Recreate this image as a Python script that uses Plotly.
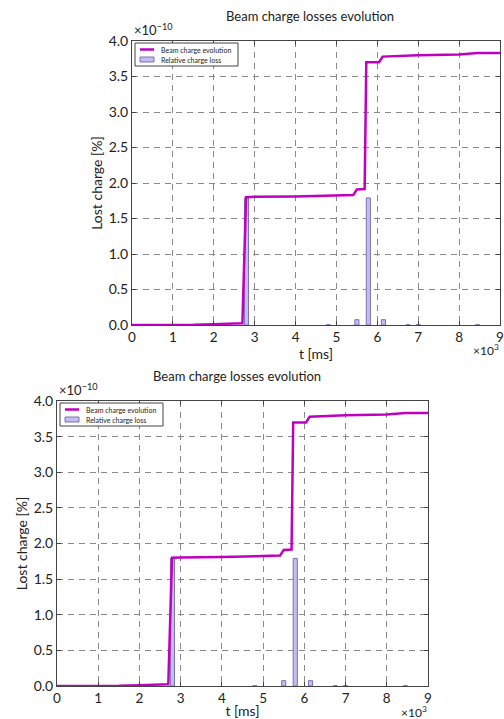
import plotly.graph_objects as go

# ---- data ----
t_line = [0, 500, 1000, 1500, 2000, 2500, 2700, 2790, 3000, 4000, 5000, 5410, 5500, 5690, 5730, 6040, 6130, 7000, 8000, 8450, 9000]
q_line = [0.0, 0.0, 0.001, 0.004, 0.012, 0.018, 0.025, 1.80, 1.805, 1.81, 1.82, 1.83, 1.91, 1.915, 3.70, 3.70, 3.78, 3.80, 3.81, 3.83, 3.83]
t_bars = [2800, 4800, 5500, 5780, 6150, 6750, 7000, 8450]
q_bars = [1.79, 0.004, 0.075, 1.79, 0.075, 0.004, 0.004, 0.004]
scale = 1e-10
y_tickvals = [0.0, 0.5, 1.0, 1.5, 2.0, 2.5, 3.0, 3.5, 4.0]
x_tickvals = [0, 1, 2, 3, 4, 5, 6, 7, 8, 9]
line_name = "Beam charge evolution"
bar_name = "Relative charge loss"

W, H = 504, 719
FONT = "Lato"
MAG = "#C000C0"
BAR_FILL = "#C6BCF2"
BAR_EDGE = "#7A72B0"

fig = go.Figure()

panels = [
    dict(x0=132, x1=500, y0=41, y1=325, xa="x", ya="y"),
    dict(x0=57, x1=428, y0=401, y1=686, xa="x2", ya="y2"),
]

for p in panels:
    fig.add_trace(go.Bar(
        x=t_bars, y=[v * scale for v in q_bars], width=100,
        marker=dict(color=BAR_FILL, line=dict(color=BAR_EDGE, width=1)),
        name=bar_name, xaxis=p["xa"], yaxis=p["ya"], showlegend=False,
    ))
    fig.add_trace(go.Scatter(
        x=t_line, y=[v * scale for v in q_line], mode="lines",
        line=dict(color=MAG, width=2.5),
        name=line_name, xaxis=p["xa"], yaxis=p["ya"], showlegend=False,
    ))


def fx(px):
    return px / W


def fy(py):
    return 1 - py / H


axis_common = dict(
    showline=True, linecolor="#444", linewidth=1, mirror="ticks",
    ticks="inside", ticklen=4, tickcolor="#444",
    showgrid=True, gridcolor="#8a8a8a", griddash="6px,5px", gridwidth=1,
    zeroline=False, automargin=False,
)

annotations = []
shapes = []
layout = dict(
    width=W, height=H, margin=dict(l=0, r=0, t=0, b=0, autoexpand=False),
    paper_bgcolor="white", plot_bgcolor="white",
    font=dict(family=FONT, color="#222"),
    barmode="overlay", showlegend=False,
)

for i, p in enumerate(panels):
    sfx = "" if i == 0 else "2"
    layout["xaxis" + sfx] = dict(
        axis_common, domain=[fx(p["x0"]), fx(p["x1"])], range=[0, 9000],
        anchor="y" + sfx, tickvals=[v * 1000 for v in x_tickvals],
        ticktext=[str(v) for v in x_tickvals],
        tickfont=dict(family=FONT, size=13.5, color="#222"),
        title=dict(text="t [ms]", font=dict(family=FONT, size=14), standoff=4),
    )
    layout["yaxis" + sfx] = dict(
        axis_common, domain=[fy(p["y1"]), fy(p["y0"])], range=[0, 4e-10],
        anchor="x" + sfx, tickvals=[v * scale for v in y_tickvals],
        ticktext=["%.1f" % v for v in y_tickvals],
        tickfont=dict(family=FONT, size=14, color="#222"),
        title=dict(text="Lost charge [%]", font=dict(family=FONT, size=14), standoff=2),
    )
    # titles
    cx = (p["x0"] + p["x1"]) / 2 - 6
    annotations.append(dict(
        text="Beam charge losses evolution", xref="paper", yref="paper",
        x=fx(cx), y=fy(p["y0"] - 25), xanchor="center", yanchor="middle",
        showarrow=False, font=dict(family=FONT, size=13, color="#222"),
    ))
    annotations.append(dict(
        text="×10<sup>−10</sup>", xref="paper", yref="paper",
        x=fx(p["x0"]), y=fy(p["y0"] - 1), xanchor="left", yanchor="bottom",
        showarrow=False, font=dict(family=FONT, size=13, color="#222"),
    ))
    annotations.append(dict(
        text="×10<sup>3</sup>", xref="paper", yref="paper",
        x=fx(p["x1"]), y=fy(p["y1"] + 16.5), xanchor="right", yanchor="top",
        showarrow=False, font=dict(family=FONT, size=12, color="#222"), borderpad=0,
    ))
    # hand-drawn compact legend (matplotlib style)
    lx0, ly0 = p["x0"] + 3, p["y0"] + 2
    lx1, ly1 = lx0 + 103, ly0 + 23
    shapes.append(dict(type="rect", xref="paper", yref="paper",
                       x0=fx(lx0), x1=fx(lx1), y0=fy(ly1), y1=fy(ly0),
                       line=dict(color="#444", width=1), fillcolor="white", layer="above"))
    shapes.append(dict(type="line", xref="paper", yref="paper",
                       x0=fx(lx0 + 5), x1=fx(lx0 + 19), y0=fy(ly0 + 6.5), y1=fy(ly0 + 6.5),
                       line=dict(color=MAG, width=2.5), layer="above"))
    shapes.append(dict(type="rect", xref="paper", yref="paper",
                       x0=fx(lx0 + 5), x1=fx(lx0 + 19), y0=fy(ly0 + 19), y1=fy(ly0 + 14),
                       line=dict(color=BAR_EDGE, width=1), fillcolor=BAR_FILL, layer="above"))
    annotations.append(dict(
        text=line_name, xref="paper", yref="paper",
        x=fx(lx0 + 24), y=fy(ly0 + 6.5), xanchor="left", yanchor="middle",
        showarrow=False, font=dict(family=FONT, size=7, color="#222"),
    ))
    annotations.append(dict(
        text=bar_name, xref="paper", yref="paper",
        x=fx(lx0 + 24), y=fy(ly0 + 16.5), xanchor="left", yanchor="middle",
        showarrow=False, font=dict(family=FONT, size=7, color="#222"),
    ))

layout["annotations"] = annotations
layout["shapes"] = shapes
fig.update_layout(**layout)
fig.write_html("out.html", config={"displayModeBar": False},
               post_script="document.body.style.margin='0px';")
